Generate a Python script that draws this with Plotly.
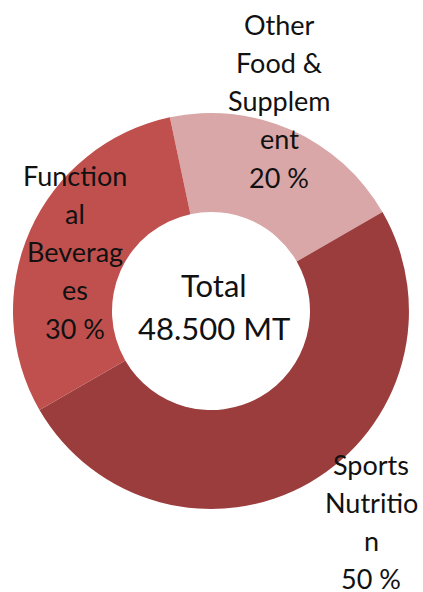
import plotly.graph_objects as go

W, H = 423, 592

categories = ["Other Food & Supplement", "Sports Nutrition", "Functional Beverages"]
shares = [20, 50, 30]
colors = ["#D9A7A7", "#9B3D3D", "#C0504D"]
# wrapped label lines as in the reference
label_lines = [
    ["Other", "Food &", "Supplem", "ent"],
    ["Sports", "Nutritio", "n"],
    ["Function", "al", "Beverag", "es"],
]
center_lines = ["Total", "48.500 MT"]

# label anchor (pixel centre of first line) and line spacing
label_pos = [(279, 24), (371, 464), (75, 175)]
line_gap = 38.3

FONT = "Lato"

# pie geometry in pixels
cx, cy, R = 211, 311, 198


def fx(px):
    return px / W


def fy(py):
    return 1 - py / H


fig = go.Figure(go.Pie(
    labels=categories,
    values=shares,
    marker=dict(colors=colors, line=dict(width=0)),
    hole=0.5,
    sort=False,
    direction="clockwise",
    rotation=-12,
    textinfo="none",
    hoverinfo="label+percent",
    showlegend=False,
    domain=dict(x=[fx(cx - R), fx(cx + R)], y=[fy(cy + R), fy(cy - R)]),
))

ann = []
for lines, val, (px, py) in zip(label_lines, shares, label_pos):
    all_lines = lines + [f"{val} %"]
    for i, t in enumerate(all_lines):
        ann.append(dict(x=fx(px), y=fy(py + i * line_gap), xref="paper", yref="paper",
                        text=t, showarrow=False, xanchor="center", yanchor="middle",
                        font=dict(family=FONT, size=27, color="#111111")))
for i, t in enumerate(center_lines):
    ann.append(dict(x=fx(214), y=fy(285 + i * 43), xref="paper", yref="paper",
                    text=t, showarrow=False, xanchor="center", yanchor="middle",
                    font=dict(family=FONT, size=31, color="#111111")))

fig.update_layout(
    width=W, height=H,
    margin=dict(l=0, r=0, t=0, b=0),
    paper_bgcolor="white", plot_bgcolor="white",
    annotations=ann,
)

fig.write_html(
    "out.html",
    config={"displayModeBar": False},
    post_script="document.body.style.margin='0';document.body.style.overflow='hidden';",
)
